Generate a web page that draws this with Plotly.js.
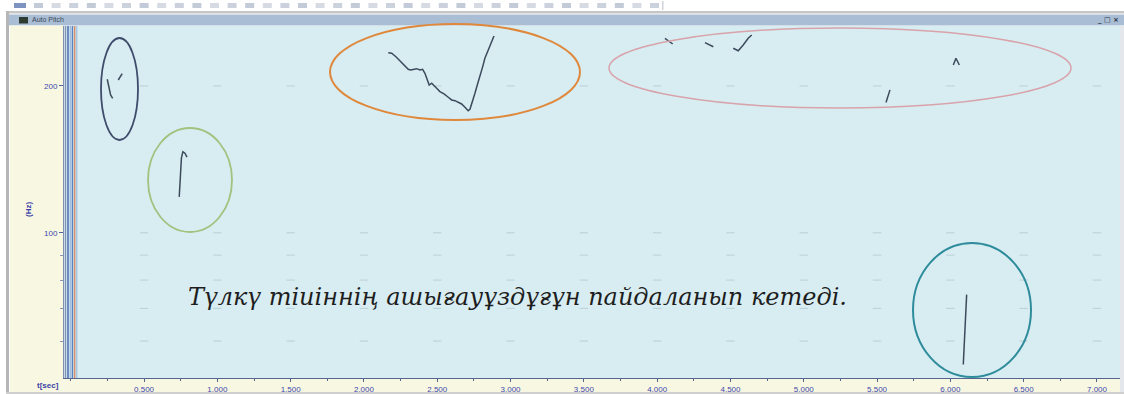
<!DOCTYPE html>
<html>
<head>
<meta charset="utf-8">
<script src="https://cdn.plot.ly/plotly-3.0.1.min.js"></script>
<style>html,body{margin:0;padding:0;background:#fff;}#chart{width:1124px;height:394px;}</style>
</head>
<body>
<div id="chart"></div>
<script>
// ---- data (time in seconds, pitch in Hz) ----
const xTickVals = [0.5, 1.0, 1.5, 2.0, 2.5, 3.0, 3.5, 4.0, 4.5, 5.0, 5.5, 6.0, 6.5, 7.0];
const xTickText = ["0.500","1.000","1.500","2.000","2.500","3.000","3.500","4.000","4.500","5.000","5.500","6.000","6.500","7.000"];
const yTickVals = [100, 200];
const yTickText = ["100", "200"];
const yMinorTicks = [60, 70, 80, 90];
const gridRowsHz = [200, 100, 90, 80, 70, 60];

const seg1T = [0.249, 0.272, 0.286];
const seg1F = [206.4, 191.7, 188.7];
const seg2T = [0.324, 0.351];
const seg2F = [205.7, 212.0];
const seg3T = [0.740, 0.745, 0.748, 0.755, 0.765, 0.779, 0.793];
const seg3F = [118.5, 125.5, 134.6, 142.4, 146.6, 145.6, 143.0];
const seg4T = [2.166, 2.189, 2.218, 2.245, 2.280, 2.302, 2.319, 2.341, 2.359, 2.382, 2.400, 2.416, 2.432, 2.445, 2.462, 2.477, 2.496, 2.518, 2.546, 2.575, 2.598, 2.621, 2.643, 2.666, 2.689, 2.711, 2.723, 2.741, 2.757, 2.773, 2.791, 2.810, 2.825, 2.848, 2.871, 2.887];
const seg4F = [234.0, 233.4, 229.6, 225.3, 220.8, 216.4, 215.7, 216.4, 217.0, 215.7, 216.4, 212.3, 205.7, 200.9, 202.6, 200.0, 197.8, 194.7, 192.6, 189.6, 187.2, 186.6, 184.9, 183.7, 180.9, 178.0, 179.2, 185.7, 193.2, 200.9, 209.0, 219.1, 227.9, 237.0, 246.5, 253.2];
const seg5T = [4.053, 4.080, 4.106];
const seg5F = [250.4, 247.0, 243.8];
const seg6T = [4.326, 4.383];
const seg6F = [245.3, 240.7];
const seg7T = [4.519, 4.553, 4.587, 4.621, 4.645];
const seg7F = [238.9, 236.2, 242.7, 250.4, 254.4];
const seg8T = [5.561, 5.588];
const seg8F = [184.9, 196.3];
const seg9T = [6.020, 6.038, 6.061];
const seg9F = [220.8, 227.9, 220.8];
const seg10T = [6.088, 6.093, 6.100, 6.107, 6.111];
const seg10F = [53.7, 58.5, 63.3, 69.6, 74.7];

const sentence = "Түлкү тіиіннің ашығауұздұғұн пайдаланып кетеді.";

// ---- layout helpers (pixel -> paper) ----
const PL = 64, PR = 1120, PT = 26, PB = 378;
function px(X){ return (X - PL) / (PR - PL); }
function py(Y){ return (PB - Y) / (PB - PT); }

const segments = [[seg1T,seg1F],[seg2T,seg2F],[seg3T,seg3F],[seg4T,seg4F],[seg5T,seg5F],[seg6T,seg6F],[seg7T,seg7F],[seg8T,seg8F],[seg9T,seg9F],[seg10T,seg10F]];

const traces = [];
// faint grid dashes at intersections
const gx = [], gy = [];
gridRowsHz.forEach(f => xTickVals.forEach(t => { gx.push(t); gy.push(f); }));
traces.push({x: gx, y: gy, mode: 'markers', type: 'scatter', hoverinfo: 'skip',
  marker: {symbol: 'line-ew-open', size: 6, color: 'rgba(150,172,180,0.45)', line: {width: 1}}});
segments.forEach(s => traces.push({x: s[0], y: s[1], mode: 'lines', type: 'scatter',
  line: {color: '#3c4a5c', width: 1.5}, hoverinfo: 'skip'}));

function rect(X0, Y0, X1, Y1, fill, layer){
  return {type: 'rect', xref: 'paper', yref: 'paper', x0: px(X0), x1: px(X1), y0: py(Y1), y1: py(Y0),
    fillcolor: fill, line: {width: 0}, layer: layer || 'below'};
}
function ell(X0, Y0, X1, Y1, color, w){
  return {type: 'circle', xref: 'paper', yref: 'paper', x0: px(X0), x1: px(X1), y0: py(Y1), y1: py(Y0),
    line: {color: color, width: w}, fillcolor: 'rgba(0,0,0,0)', layer: 'above'};
}
function vline(X, color, w){
  return {type: 'line', xref: 'paper', yref: 'paper', x0: px(X), x1: px(X), y0: 0, y1: py(PT), line: {color: color, width: w}, layer: 'above'};
}

const shapes = [];
// toolbar icons (faint)
shapes.push(rect(14, 3, 26, 8, '#7d93c0'));
for (let i = 0; i < 36; i++) {
  const X = 34 + i * 17.6;
  const c = (i % 3 === 0) ? '#c3cbd8' : ((i % 3 === 1) ? '#d6dbe3' : '#cbd2dd');
  shapes.push(rect(X, 3, X + 9, 8, c));
}
shapes.push(rect(662, 1, 663.5, 10, '#d0d4da'));
// window frame & title bar
shapes.push(rect(6, 11, 1124, 13.5, '#c6c6c6'));
shapes.push(rect(9, 14.5, 1124, 25.5, '#a9bed4'));
shapes.push(rect(19, 17, 28, 23.5, '#2e3b30'));
shapes.push(rect(6, 11, 9, 394, '#b6b6b6'));
shapes.push(rect(10, 25.5, 63.5, 392, '#f8f7e1'));
shapes.push(rect(63.5, 378, 1124, 392, '#f8f7e1'));
shapes.push(rect(6, 392, 1124, 394, '#cfcfcf'));
shapes.push(rect(1120, 25.5, 1124, 392, '#e4e8ec'));
// coloured vertical rulers at the left edge of the plot
shapes.push(vline(65.5, '#8393b6', 1.4));
shapes.push(vline(68, '#3f62ad', 1.4));
shapes.push(vline(70.3, '#a5bddc', 1.4));
shapes.push(vline(72.4, '#5a81c2', 1.4));
shapes.push(vline(74.6, '#d38f6c', 1.6));
shapes.push(vline(76.7, '#a9c4e2', 1.4));
// hand-drawn ellipses
shapes.push(ell(101, 38, 138, 140, '#3f4d6c', 1.8));
shapes.push(ell(148, 128, 232, 232, '#a2c27f', 1.8));
shapes.push(ell(330, 24, 580, 120, '#df883c', 2));
shapes.push(ell(609, 28, 1071, 108, '#d8a3aa', 1.5));
shapes.push(ell(913, 243, 1031, 377, '#2f8c9c', 2));

function note(text, X, Y, font, extra){
  return Object.assign({text: text, xref: 'paper', yref: 'paper', x: px(X), y: py(Y),
    xanchor: 'center', yanchor: 'middle', showarrow: false, font: font}, extra || {});
}
const annotations = [
  note(sentence, 517, 297, {family: 'DejaVu Serif, Liberation Serif, serif', size: 24, style: 'italic', color: '#1e1e1e'}),
  note('Auto Pitch', 30, 20, {family: 'Liberation Sans, Arial', size: 7, color: '#3a4658'}, {xanchor: 'left'}),
  note('<b>_ □ ×</b>', 1121, 20, {family: 'DejaVu Sans', size: 7, color: '#2b3340'}, {xanchor: 'right'}),
  note('<b>t[sec]</b>', 48, 385.5, {family: 'Liberation Sans, Arial', size: 8, color: '#3a42a8'}),
  note('<b>(Hz)</b>', 28, 210, {family: 'Liberation Sans, Arial', size: 8, color: '#3a42a8'}, {textangle: -90})
];

const layout = {
  width: 1124, height: 394,
  margin: {l: PL, r: 1124 - PR, t: PT, b: 394 - PB, pad: 0},
  paper_bgcolor: '#ffffff', plot_bgcolor: '#d8edf2',
  showlegend: false,
  xaxis: {range: [-0.046, 7.157], tickmode: 'array', tickvals: xTickVals, ticktext: xTickText,
    showgrid: false, zeroline: false, showline: true, linecolor: '#56668f', linewidth: 1,
    ticks: 'outside', ticklen: 3, tickcolor: '#56668f',
    tickfont: {family: 'Liberation Sans, Arial', size: 8, color: '#4048b0'},
    minor: {tickmode: 'linear', tick0: 0, dtick: 0.25, ticks: 'outside', ticklen: 2, tickcolor: '#56668f', showgrid: false}},
  yaxis: {type: 'log', range: [Math.log10(50.4), Math.log10(265.4)], tickmode: 'array', tickvals: yTickVals, ticktext: yTickText,
    showgrid: false, zeroline: false, showline: true, linecolor: '#7f8fb0', linewidth: 1,
    ticks: 'outside', ticklen: 4, tickcolor: '#5560a0',
    tickfont: {family: 'Liberation Sans, Arial', size: 8, color: '#4048b0'},
    minor: {tickmode: 'array', tickvals: yMinorTicks, ticks: 'outside', ticklen: 3, tickcolor: '#8a94b8', showgrid: false}},
  shapes: shapes,
  annotations: annotations
};

Plotly.newPlot('chart', traces, layout, {displayModeBar: false, staticPlot: true});
</script>
</body>
</html>
